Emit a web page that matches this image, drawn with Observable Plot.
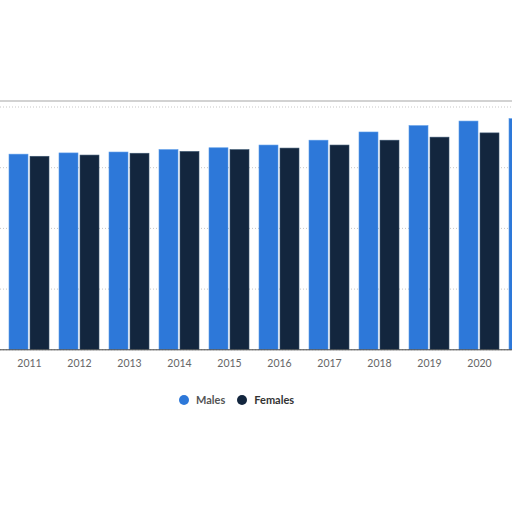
<!DOCTYPE html>
<html>
<head>
<meta charset="utf-8">
<script src="https://cdn.jsdelivr.net/npm/d3@7"></script>
<script src="https://cdn.jsdelivr.net/npm/@observablehq/plot@0.6"></script>
<style>
  html, body { margin: 0; padding: 0; background: #fff; }
  #wrap { position: relative; width: 512px; height: 512px; overflow: hidden; font-family: Lato, "Open Sans", sans-serif; }
  #chart { position: absolute; left: 0; top: 100px; width: 512px; border-top: 2px solid #d2d2d2; }
  #legend { position: absolute; left: 179px; top: 393px; display: flex; align-items: center; font-size: 11px; font-weight: bold; }
  .item { display: flex; align-items: center; margin-right: 12px; }
  .dot { width: 10px; height: 10px; border-radius: 50%; margin-right: 7px; }
</style>
</head>
<body>
<div id="wrap">
  <div id="chart"></div>
  <div id="legend"></div>
</div>
<script>
const years = [2011, 2012, 2013, 2014, 2015, 2016, 2017, 2018, 2019, 2020, 2021];
const males = [64.3, 64.7, 65.0, 65.8, 66.4, 67.3, 68.9, 71.6, 73.7, 75.2, 76.0];
const females = [63.6, 64.0, 64.6, 65.2, 65.8, 66.3, 67.3, 68.9, 69.9, 71.3, 72.2];
const tickYears = [2011, 2012, 2013, 2014, 2015, 2016, 2017, 2018, 2019, 2020];
const yTicks = [0, 20, 40, 60, 80];
const seriesNames = ["Males", "Females"];
const seriesColors = ["#2d78d9", "#13263e"];

const rows = years.map((year, i) => ({year, male: males[i], female: females[i]}));

const chart = Plot.plot({
  width: 512,
  height: 280,
  marginTop: 4.5,
  marginBottom: 32.7,
  marginLeft: 0,
  marginRight: 0,
  style: {fontFamily: "Lato, 'Open Sans', sans-serif", fontSize: "10.5px", color: "#666", background: "transparent"},
  x: {
    type: "band",
    domain: years,
    range: [5.7, 551.64],
    paddingInner: 0.2,
    paddingOuter: 0,
    ticks: tickYears,
    tickSize: 0,
    tickPadding: 10,
    label: null,
    tickFormat: d => String(d)
  },
  y: {domain: [0, 80], axis: null},
  marks: [
    Plot.gridY(yTicks, {stroke: "#c8c8c8", strokeOpacity: 1, strokeDasharray: "1,2"}),
    Plot.barY(rows, {x: "year", y: "male", fill: seriesColors[0], insetRight: 21, stroke: "#5a9be8", strokeWidth: 0.6}),
    Plot.barY(rows, {x: "year", y: "female", fill: seriesColors[1], insetLeft: 21, stroke: "#3a5570", strokeWidth: 0.6}),
    Plot.ruleY([0], {stroke: "#444", strokeWidth: 1})
  ]
});
document.getElementById("chart").appendChild(chart);

const legend = document.getElementById("legend");
seriesNames.forEach((name, i) => {
  const item = document.createElement("div");
  item.className = "item";
  const dot = document.createElement("span");
  dot.className = "dot";
  dot.style.background = seriesColors[i];
  const label = document.createElement("span");
  label.textContent = name;
  label.style.color = i === 0 ? "#555" : "#333";
  item.appendChild(dot);
  item.appendChild(label);
  legend.appendChild(item);
});
</script>
</body>
</html>
